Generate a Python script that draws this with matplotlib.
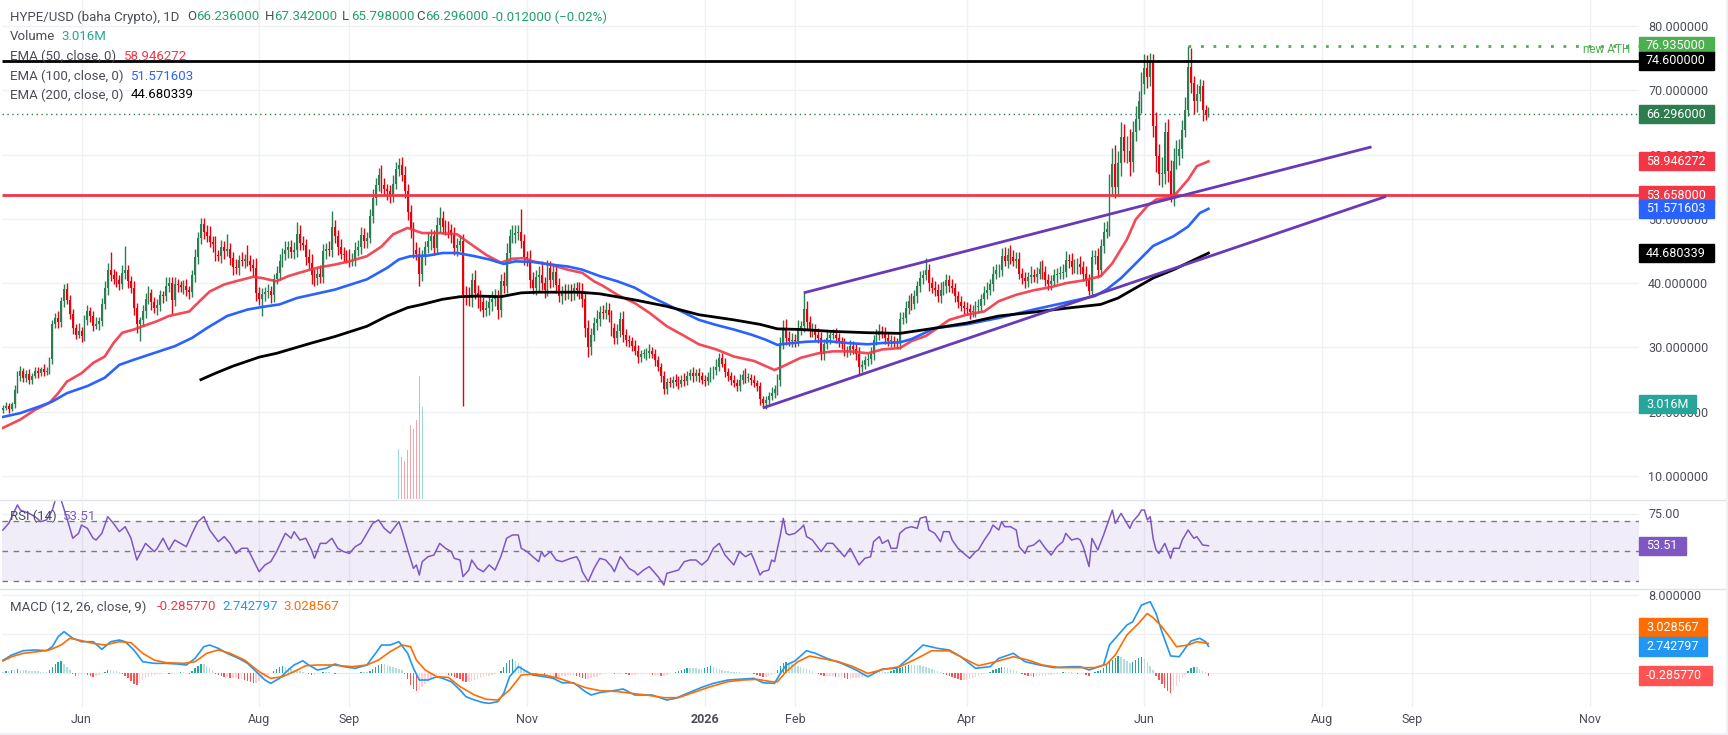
import numpy as np
import pandas as pd
import matplotlib
matplotlib.use("Agg")
import matplotlib.pyplot as plt
from matplotlib.patches import Rectangle

# ---------------- data (daily candles) ----------------
start_date = "2025-05-05"
first_open = 20.3

close = [
    20.6, 20.9, 20.5, 21.2, 23.4, 25.6, 26.3, 25.3, 25.9, 24.9, 25.6, 26.4, 26.0, 26.7, 26.2, 26.4, 28.2, 33.6, 34.6, 33.9,
    37.2, 39.1, 37.4, 35.2, 33.1, 32.0, 32.6, 31.8, 34.2, 35.6, 34.9, 33.4, 33.6, 34.1, 36.8, 39.2, 42.1, 41.2, 40.6, 40.5,
    39.9, 41.6, 42.0, 40.4, 39.3, 36.1, 33.6, 34.2, 35.6, 37.6, 38.4, 37.0, 36.1, 36.6, 38.1, 38.0, 39.6, 40.1, 37.4, 39.9,
    39.7, 39.4, 39.6, 38.9, 38.7, 41.2, 44.1, 47.0, 49.2, 48.0, 47.4, 46.4, 46.1, 44.4, 44.3, 45.6, 45.0, 45.3, 43.9, 42.5,
    42.4, 43.6, 43.5, 43.8, 43.4, 42.9, 42.4, 38.4, 37.6, 38.3, 38.6, 38.8, 38.1, 40.6, 41.6, 43.4, 44.6, 45.1, 45.6, 44.8,
    45.1, 47.6, 46.3, 46.0, 44.1, 43.2, 41.2, 40.8, 41.5, 41.0, 45.0, 45.3, 45.1, 48.8, 47.3, 45.7, 44.6, 44.4, 44.2, 43.7,
    43.8, 45.2, 45.7, 47.5, 46.5, 47.0, 50.4, 53.3, 55.3, 56.9, 55.2, 54.6, 54.3, 53.6, 55.5, 57.7, 58.4, 56.9, 54.4, 51.0,
    48.4, 45.1, 44.6, 41.5, 44.0, 45.7, 46.5, 47.3, 45.5, 49.0, 50.2, 48.7, 48.5, 48.3, 47.5, 45.5, 46.0, 46.5, 38.2, 38.1,
    37.7, 40.5, 38.5, 38.0, 37.0, 35.9, 36.2, 37.0, 37.5, 38.0, 35.9, 40.3, 39.5, 44.7, 47.3, 47.5, 47.8, 47.9, 46.5, 44.0,
    43.8, 40.5, 39.3, 41.0, 41.3, 40.0, 39.0, 42.4, 40.5, 41.8, 39.7, 38.0, 38.6, 38.5, 38.8, 38.5, 39.2, 39.0, 38.8, 37.5,
    33.0, 30.0, 32.0, 33.8, 34.5, 35.5, 35.4, 35.9, 35.0, 33.0, 31.5, 32.5, 34.5, 32.0, 31.2, 31.0, 30.3, 29.5, 28.5, 29.0,
    29.0, 29.2, 29.5, 29.0, 28.0, 27.0, 25.5, 23.5, 24.6, 24.5, 25.0, 24.7, 24.4, 25.0, 24.8, 25.6, 26.0, 25.5, 26.0, 25.6,
    25.0, 24.8, 25.4, 26.0, 26.5, 27.0, 28.4, 27.5, 26.2, 25.5, 25.0, 24.5, 24.0, 25.0, 25.8, 25.3, 25.3, 25.0, 24.5, 24.0,
    22.0, 21.3, 21.8, 22.5, 23.0, 23.5, 25.0, 30.7, 33.0, 31.5, 31.0, 31.2, 31.0, 33.0, 33.3, 36.0, 34.0, 32.5, 32.8, 32.0,
    31.5, 29.0, 30.5, 31.5, 32.0, 32.0, 31.5, 31.0, 30.5, 29.5, 29.6, 30.3, 29.8, 29.0, 27.0, 27.3, 28.0, 28.2, 29.0, 31.2,
    32.0, 32.5, 32.2, 31.5, 31.0, 31.0, 30.8, 30.7, 34.5, 34.6, 36.2, 37.3, 36.8, 38.0, 39.5, 40.8, 41.3, 42.0, 40.0, 39.3,
    39.0, 38.0, 39.0, 39.5, 40.5, 39.5, 39.2, 38.0, 37.0, 36.5, 36.2, 36.0, 35.5, 35.6, 36.3, 36.5, 37.5, 38.5, 39.0, 39.8,
    41.5, 42.0, 42.1, 44.2, 43.5, 44.4, 44.0, 43.5, 43.8, 41.5, 40.8, 40.3, 41.0, 41.3, 41.0, 41.5, 42.2, 41.8, 40.5, 39.9,
    40.4, 41.2, 41.5, 41.6, 41.8, 43.6, 43.5, 42.5, 42.6, 43.0, 42.5, 41.5, 40.5, 38.8, 44.0, 44.2, 42.0, 45.8, 48.0, 48.5,
    55.0, 58.5, 55.0, 58.7, 62.8, 60.5, 60.5, 58.8, 63.5, 65.5, 68.3, 71.0, 73.5, 72.0, 74.6, 64.4, 59.8, 57.0, 57.0, 63.5,
    57.5, 53.5, 59.0, 59.8, 60.8, 63.9, 67.0, 73.7, 71.1, 68.3, 69.5, 70.6, 67.0, 66.236, 66.296,
]

# upper / lower wick length above max(open, close) and below min(open, close)
wick_hi = [
    0.4, 0.6, 0.5, 0.3, 0.8, 0.7, 0.9, 0.5, 0.6, 0.8, 0.4, 0.5, 0.6, 0.3, 0.7, 0.5, 0.4, 0.6, 0.8, 1.0,
    0.6, 0.8, 0.9, 0.7, 0.8, 0.5, 1.2, 0.6, 0.9, 1.0, 0.7, 0.8, 1.1, 0.6, 0.9, 1.2, 1.0, 2.8, 1.0, 1.3,
    0.8, 1.2, 3.8, 0.9, 0.7, 1.1, 0.8, 0.6, 1.0, 0.9, 1.2, 0.7, 0.8, 1.0, 0.9, 0.7, 1.3, 0.8, 0.9, 1.1,
    0.8, 0.6, 0.9, 1.0, 0.7, 0.8, 1.2, 0.9, 1.0, 1.0, 1.0, 1.5, 0.9, 1.3, 0.8, 1.1, 0.9, 2.3, 1.0, 0.9,
    1.2, 0.8, 1.3, 0.7, 2.2, 1.0, 0.8, 1.5, 1.0, 0.9, 0.8, 1.1, 0.7, 0.9, 1.0, 1.2, 0.8, 1.4, 1.0, 1.1,
    1.3, 1.9, 1.5, 1.0, 0.9, 1.2, 1.4, 1.0, 0.8, 1.3, 1.1, 0.9, 1.2, 2.5, 1.0, 0.9, 1.2, 1.0, 0.8, 1.1,
    0.9, 1.2, 1.0, 1.3, 1.1, 1.0, 1.2, 1.4, 1.1, 1.0, 1.5, 1.2, 0.9, 1.0, 1.3, 1.1, 1.1, 1.2, 1.4, 1.0,
    1.2, 1.1, 1.3, 1.0, 1.2, 0.9, 1.4, 1.1, 1.0, 1.3, 1.6, 1.0, 1.2, 1.1, 0.9, 1.3, 1.1, 1.0, 1.2, 1.4,
    1.3, 1.1, 1.5, 1.2, 1.0, 0.9, 1.2, 1.0, 1.3, 1.1, 1.0, 1.2, 1.4, 1.5, 1.2, 1.6, 1.3, 1.1, 3.7, 1.2,
    1.0, 1.3, 1.2, 1.1, 1.4, 2.2, 1.0, 1.2, 1.1, 1.3, 1.0, 1.1, 0.9, 1.2, 1.0, 1.1, 0.9, 1.0, 1.2, 1.3,
    1.1, 1.2, 1.0, 0.9, 1.3, 1.0, 1.1, 1.2, 1.0, 0.9, 0.8, 1.2, 1.0, 1.1, 0.9, 0.8, 0.7, 0.8, 0.9, 0.6,
    0.8, 0.7, 1.0, 0.6, 0.8, 0.7, 0.6, 0.9, 0.7, 0.8, 0.6, 0.9, 0.8, 0.7, 1.0, 0.8, 0.6, 0.9, 0.7, 0.8,
    0.6, 0.7, 0.8, 0.9, 0.7, 1.2, 0.8, 0.7, 0.9, 0.6, 0.7, 0.8, 0.6, 0.9, 0.7, 1.0, 0.8, 0.6, 0.7, 0.5,
    0.6, 0.5, 0.7, 0.6, 0.8, 0.7, 0.9, 1.0, 1.2, 1.5, 1.0, 1.1, 0.9, 1.3, 0.8, 2.5, 1.2, 0.9, 1.0, 0.8,
    1.0, 0.9, 0.8, 1.1, 0.7, 0.9, 1.0, 0.8, 0.7, 0.9, 0.6, 0.8, 0.7, 0.9, 1.0, 0.8, 0.7, 0.9, 1.0, 0.8,
    0.9, 1.2, 0.8, 1.0, 0.7, 0.9, 0.8, 0.6, 1.0, 0.9, 1.1, 0.8, 1.2, 1.0, 0.9, 1.1, 0.8, 1.9, 1.0, 0.9,
    1.1, 0.8, 1.2, 0.9, 1.0, 0.8, 1.1, 0.9, 0.8, 1.0, 0.7, 0.9, 0.8, 1.0, 0.9, 1.1, 0.8, 1.0, 1.2, 0.9,
    1.1, 1.0, 0.9, 1.2, 1.5, 1.0, 1.6, 1.2, 1.0, 1.1, 0.9, 1.0, 0.8, 1.3, 0.9, 1.0, 1.2, 1.4, 0.9, 1.0,
    0.8, 1.0, 0.9, 1.1, 1.2, 1.4, 1.0, 1.2, 1.1, 0.9, 1.3, 1.0, 1.1, 0.9, 1.2, 1.0, 1.3, 1.1, 1.5, 1.2,
    2.0, 2.5, 3.0, 1.8, 2.2, 2.0, 2.4, 3.5, 1.8, 2.0, 1.6, 1.9, 2.2, 2.0, 1.2, 1.0, 2.3, 1.8, 2.6, 1.5,
    2.0, 1.7, 2.1, 2.5, 1.6, 1.5, 1.9, 3.235, 2.9, 1.2, 1.5, 1.1, 1.0, 0.7, 1.046,
]

wick_lo = [
    0.5, 0.3, 0.7, 0.4, 0.6, 0.5, 0.8, 0.6, 0.7, 0.5, 0.6, 0.4, 0.7, 0.5, 0.6, 0.4, 0.5, 0.7, 0.6, 0.8,
    0.7, 0.9, 0.6, 0.8, 1.0, 0.7, 0.6, 0.9, 0.8, 0.7, 1.0, 0.8, 0.6, 0.9, 0.7, 0.8, 1.0, 0.9, 0.8, 1.1,
    0.9, 0.8, 1.0, 1.2, 0.9, 1.1, 1.4, 2.6, 0.8, 1.0, 0.9, 1.2, 0.8, 1.0, 0.9, 1.1, 0.8, 1.0, 2.2, 0.9,
    1.0, 0.8, 1.1, 0.9, 1.2, 0.8, 1.0, 1.1, 0.9, 1.2, 1.0, 0.8, 1.3, 1.0, 0.9, 1.1, 1.2, 0.8, 1.0, 1.3,
    1.0, 1.2, 0.9, 1.1, 0.8, 1.0, 1.3, 1.2, 1.0, 2.7, 1.1, 0.9, 1.2, 1.0, 0.8, 1.1, 0.9, 1.0, 1.2, 0.9,
    1.1, 1.0, 1.2, 0.9, 1.3, 1.0, 1.4, 1.2, 1.1, 0.9, 1.0, 1.2, 0.8, 1.1, 1.0, 1.3, 0.9, 1.1, 1.0, 1.2,
    1.0, 1.1, 0.9, 1.2, 1.0, 1.1, 0.8, 1.0, 1.2, 0.9, 1.1, 1.0, 1.3, 1.2, 1.0, 0.9, 1.1, 1.0, 1.2, 1.1,
    1.3, 1.2, 1.0, 2.0, 1.1, 1.2, 1.0, 1.3, 1.1, 1.0, 1.2, 1.1, 1.0, 1.2, 1.3, 1.1, 1.2, 1.0, 17.3, 1.5,
    1.2, 1.4, 1.0, 1.8, 1.3, 1.2, 1.0, 1.1, 1.3, 1.0, 1.4, 1.2, 1.0, 1.1, 1.3, 1.0, 1.2, 1.1, 1.0, 1.2,
    1.1, 1.3, 1.0, 1.2, 2.4, 1.1, 1.3, 1.0, 1.2, 1.1, 1.3, 1.0, 1.2, 1.1, 1.0, 1.2, 1.1, 1.0, 1.3, 1.2,
    1.4, 1.5, 1.2, 1.0, 1.1, 1.2, 0.9, 1.0, 1.1, 1.2, 0.9, 1.0, 0.8, 1.1, 0.9, 1.0, 0.8, 0.7, 0.9, 0.8,
    0.7, 0.9, 0.8, 0.6, 0.8, 0.7, 0.9, 0.8, 0.7, 0.6, 0.8, 0.7, 0.9, 0.6, 0.8, 0.7, 0.6, 0.8, 0.7, 0.9,
    0.7, 0.8, 0.6, 0.7, 0.9, 0.8, 0.7, 0.6, 0.8, 0.7, 0.9, 0.6, 0.8, 0.7, 0.6, 0.8, 0.7, 0.9, 0.7, 0.8,
    0.9, 0.7, 0.8, 0.6, 0.7, 0.8, 0.9, 1.0, 0.9, 1.1, 0.8, 1.0, 0.9, 0.8, 1.0, 0.9, 1.1, 0.8, 0.9, 1.0,
    0.8, 0.9, 1.0, 0.8, 0.9, 0.7, 0.8, 0.9, 0.7, 0.8, 0.9, 0.7, 0.8, 0.9, 1.2, 0.8, 0.7, 0.9, 0.8, 1.0,
    0.8, 0.9, 0.7, 1.0, 0.8, 0.9, 0.7, 0.8, 1.0, 0.9, 0.8, 1.0, 0.9, 0.8, 1.1, 0.9, 1.0, 0.8, 1.2, 0.9,
    1.0, 0.9, 1.1, 0.8, 1.0, 0.9, 0.8, 1.0, 0.9, 0.8, 1.0, 0.9, 1.1, 0.8, 0.9, 1.0, 0.8, 0.9, 1.0, 0.8,
    1.0, 0.9, 1.1, 1.0, 0.9, 1.1, 1.0, 0.8, 1.2, 0.9, 1.0, 1.1, 0.9, 1.0, 0.8, 1.0, 0.9, 1.1, 1.0, 0.9,
    1.0, 0.9, 1.1, 0.8, 1.0, 0.9, 1.1, 1.0, 0.9, 1.2, 1.0, 1.1, 0.9, 0.6, 0.6, 1.0, 1.2, 0.9, 1.1, 1.0,
    1.2, 1.5, 1.8, 1.4, 2.0, 1.6, 1.8, 2.2, 1.5, 1.4, 1.6, 1.8, 1.5, 1.7, 1.4, 1.6, 2.5, 1.8, 2.0, 1.5,
    1.8, 0.8, 1.5, 1.2, 1.4, 1.3, 1.1, 1.0, 1.5, 2.0, 1.6, 1.2, 1.8, 0.8, 0.438,
]

# volume (only the spike bars are tall enough to show)
vol_idx = [136, 137, 138, 139, 140, 141, 142, 143, 144]
vol_m = [20.0, 16.8, 15.2, 19.6, 29.7, 28.1, 31.7, 49.3, 36.9]

# EMA lines sampled from the chart (candle index, value)
ema50_idx = [0, 6, 11, 16, 19, 22, 27, 31, 35, 38, 41, 45, 48, 53, 57, 64, 68, 71, 76, 80, 86, 89, 94, 98, 102,
             108, 114, 119, 125, 130, 134, 139, 142, 144, 150, 156, 160, 166, 171, 175, 179, 182, 188, 194, 199,
             203, 206, 211, 217, 222, 228, 234, 239, 245, 251, 258, 262, 265, 268, 274, 280, 285, 291, 297, 302,
             308, 312, 317, 325, 331, 337, 342, 348, 354, 360, 365, 372, 377, 381, 386, 389, 393, 396, 400, 403,
             407, 410, 414]
ema50_val = [17.5, 18.8, 20.3, 21.4, 22.9, 24.7, 26.0, 27.6, 28.6, 30.7, 32.3, 32.8, 33.3, 34.1, 34.9, 35.6, 37.4,
             38.7, 39.8, 40.3, 41.0, 40.8, 40.3, 41.1, 41.65, 42.4, 42.9, 43.4, 44.2, 45.7, 47.6, 48.6, 48.1, 47.8,
             47.8, 47.6, 46.3, 44.4, 43.2, 43.8, 43.9, 43.4, 42.9, 42.1, 41.6, 40.3, 39.6, 38.2, 36.9, 35.4, 33.3,
             31.8, 30.5, 29.7, 28.6, 27.9, 27.1, 26.5, 27.1, 28.4, 29.1, 29.4, 29.4, 29.1, 29.7, 29.9, 31.0, 31.8,
             34.3, 35.1, 35.6, 37.2, 38.2, 38.9, 39.4, 40.0, 40.5, 41.1, 43.1, 46.8, 49.9, 52.0, 53.0, 53.3, 54.0,
             56.1, 58.2, 58.946272]

ema100_idx = [0, 6, 13, 17, 22, 29, 35, 40, 45, 51, 59, 65, 70, 77, 84, 89, 95, 101, 106, 114, 125, 132, 136,
              140, 146, 151, 156, 162, 167, 172, 176, 182, 188, 194, 199, 205, 211, 217, 222, 228, 234, 239, 245,
              251, 257, 262, 266, 269, 276, 283, 290, 297, 302, 308, 312, 320, 331, 342, 354, 365, 375, 379, 384,
              388, 395, 402, 407, 411, 414]
ema100_val = [19.2, 19.8, 20.9, 21.6, 22.9, 24.0, 25.3, 27.3, 28.1, 29.0, 30.2, 31.5, 33.0, 34.9, 35.9, 36.3, 36.7,
              37.7, 38.2, 39.0, 40.6, 42.4, 43.7, 44.2, 44.3, 44.7, 44.7, 44.2, 43.7, 43.0, 43.4, 43.3, 42.9, 42.6,
              42.1, 41.1, 40.3, 39.3, 38.0, 36.7, 35.4, 34.3, 33.5, 32.8, 32.0, 31.2, 30.4, 30.6, 30.9, 31.0, 30.7,
              30.5, 30.7, 30.8, 31.3, 33.0, 33.6, 34.6, 35.9, 37.0, 38.0, 39.0, 40.8, 42.6, 45.8, 47.3, 48.8, 50.9,
              51.571603]

ema200_idx = [68, 73, 79, 88, 94, 100, 106, 114, 125, 132, 139, 144, 151, 157, 163, 171, 178, 184, 191, 198, 205,
              217, 228, 239, 251, 260, 266, 274, 285, 297, 308, 320, 331, 342, 354, 365, 377, 383, 388, 395, 402,
              408, 414]
ema200_val = [25.0, 26.0, 27.1, 28.5, 29.1, 29.9, 30.7, 31.7, 33.3, 34.9, 36.2, 36.7, 37.5, 37.9, 38.0, 37.9, 38.5,
              38.6, 38.6, 38.6, 38.35, 37.4, 36.4, 35.1, 34.3, 33.6, 32.9, 32.8, 32.5, 32.3, 32.2, 33.0, 33.8, 34.9,
              35.5, 36.1, 36.7, 37.7, 39.0, 40.8, 42.1, 43.4, 44.680339]

# RSI(14) sampled from the chart
rsi_idx = [0, 2, 5, 6, 9, 11, 13, 15, 17, 18, 20, 22, 24, 26, 27, 29, 31, 32, 34, 36, 38, 40, 42, 44, 46, 49, 52,
           53, 55, 57, 59, 61, 63, 65, 67, 69, 71, 74, 76, 78, 80, 82, 84, 86, 88, 90, 92, 94, 97, 99, 100, 102,
           104, 106, 107, 109, 111, 113, 115, 117, 119, 121, 123, 125, 127, 129, 131, 133, 136, 137, 139, 141, 142,
           143, 144, 146, 148, 150, 152, 154, 155, 157, 158, 160, 161, 163, 165, 167, 169, 171, 173, 175, 177, 178,
           180, 182, 184, 185, 186, 188, 190, 192, 195, 197, 198, 199, 201, 203, 205, 207, 209, 210, 212, 213, 215,
           217, 218, 220, 222, 224, 225, 227, 228, 230, 232, 234, 236, 238, 240, 242, 244, 246, 248, 250, 251, 253,
           255, 257, 258, 260, 261, 263, 264, 265, 267, 268, 269, 270, 272, 274, 275, 276, 278, 281, 283, 285, 287,
           289, 291, 294, 296, 298, 299, 301, 302, 304, 305, 307, 308, 310, 312, 314, 315, 317, 318, 320, 322, 323,
           325, 326, 328, 330, 332, 334, 335, 337, 339, 340, 342, 343, 344, 346, 348, 349, 351, 352, 354, 356, 358,
           360, 362, 364, 365, 367, 369, 370, 371, 373, 374, 376, 378, 379, 381, 382, 384, 385, 387, 388, 390, 391,
           392, 393, 394, 395, 396, 397, 399, 401, 402, 404, 405, 407, 409, 410, 412, 414]
rsi_val = [64, 68.4, 80.7, 77.3, 75.1, 72.9, 69.6, 70.7, 77.3, 84, 84, 71.8, 58.5, 61.8, 67.3, 65.1, 58.5, 57.3,
           61.8, 72.9, 68.4, 62.9, 66.2, 58.5, 44, 55.1, 49.6, 51.8, 58.5, 50.7, 57.3, 55.1, 52.9, 61.8, 69.6, 72.9,
           64, 56.2, 59.6, 55.1, 48.4, 51.8, 51.8, 44, 36.2, 40.7, 42.9, 49.6, 61.8, 58.5, 62.9, 57.3, 58.5, 50.7,
           45.1, 55.1, 55.1, 58.5, 51.8, 49.6, 48.4, 52.9, 55.1, 61.8, 68.4, 70.7, 65.1, 61.8, 69.6, 64, 50.7, 38.4,
           40.7, 34, 42.9, 46.2, 47.3, 55.1, 51.8, 49.6, 45.1, 44, 32.9, 37.3, 44, 38.4, 36.2, 40.7, 37.3, 46.2,
           58.5, 60.7, 60.7, 51.8, 49.6, 46.2, 42.9, 49.6, 46.2, 49.6, 44, 42.9, 45.1, 46.2, 42.9, 36.2, 29.6, 38.4,
           45.1, 44, 39.6, 36.2, 46.2, 44, 38.4, 36.2, 34, 37.3, 39.6, 35.1, 32.9, 27.3, 35.1, 36.2, 37.3, 42.9, 44,
           44, 40.7, 44, 51.8, 55.1, 47.3, 42.9, 40.7, 49.6, 46.2, 48.4, 44, 34, 36.2, 37.3, 44, 42.9, 60.7, 71.8,
           61.8, 60.7, 61.8, 65.1, 67.3, 59.6, 57.3, 49.6, 55.1, 55.1, 50.7, 46.2, 51.8, 40.7, 45.1, 46.2, 56.2,
           59.6, 55.1, 57.3, 51.8, 51.8, 61.8, 65.1, 66.2, 65.1, 71.8, 72.9, 64, 61.8, 56.2, 62.9, 62.9, 57.3, 51.8,
           48.4, 45.1, 49.6, 50.7, 57.3, 62.9, 67.3, 64, 69.6, 66.2, 66.2, 64, 52.9, 48.4, 52.9, 54, 57.3, 51.8,
           47.3, 52.9, 56.2, 61.8, 57.3, 58.4, 57.3, 52.9, 39.6, 58.4, 50.7, 60.7, 66.2, 77.3, 68.4, 75.1, 71.8,
           65.1, 69.6, 74, 77.3, 77.3, 70.7, 72.9, 58.4, 50.7, 48.4, 55.1, 45.1, 51.8, 51.8, 57.3, 64, 58.4, 59.6,
           54, 53.51]

# MACD(12, 26, 9) lines sampled from the chart
macd_idx = [0, 3, 7, 11, 15, 17, 19, 21, 24, 27, 31, 34, 37, 40, 42, 45, 48, 52, 56, 60, 63, 66, 69, 71, 74, 77,
            81, 84, 87, 90, 92, 95, 98, 100, 103, 105, 108, 111, 114, 117, 121, 125, 128, 130, 133, 136, 139, 141,
            143, 146, 149, 151, 154, 157, 159, 162, 165, 167, 170, 172, 174, 177, 180, 182, 186, 189, 192, 196,
            200, 202, 205, 209, 213, 217, 223, 228, 231, 235, 240, 244, 249, 254, 258, 261, 265, 267, 269, 272,
            276, 279, 283, 288, 293, 297, 302, 307, 311, 316, 321, 325, 329, 334, 339, 342, 347, 351, 356, 361,
            367, 370, 373, 378, 380, 383, 386, 388, 391, 394, 396, 398, 401, 404, 406, 408, 411, 413, 414]
macd_val = [1.3, 1.84, 2.29, 2.36, 2.29, 2.7, 3.73, 4.24, 3.56, 3.21, 3.21, 2.43, 3.21, 3.38, 3.21, 2.36, 1.16, 0.99,
            0.99, 0.92, 0.82, 1.5, 2.7, 2.87, 2.53, 2.02, 1.5, 0.99, 0.14, -0.72, -1.06, -0.55, 0.31, 0.82, 1.26,
            0.82, 0.31, 0.48, 0.92, 0.65, 0.48, 0.82, 2.02, 2.87, 2.87, 3.21, 2.02, 0.48, -0.72, -0.72, -0.38,
            -0.55, -0.89, -1.74, -2.43, -2.77, -3.04, -3.11, -2.94, -2.09, -0.38, 0.65, 0.14, -0.21, -0.38, -0.55,
            -1.0, -1.0, -1.91, -2.26, -2.0, -1.85, -1.64, -2.26, -2.26, -2.77, -2.6, -2.09, -1.47, -1.06, -0.72,
            -0.62, -0.55, -1.0, -1.06, -0.04, 0.82, 1.23, 2.29, 2.02, 1.5, 0.99, 0.31, -0.38, 0.41, 0.48, 1.5,
            2.87, 2.53, 2.36, 1.67, 0.48, 0.65, 1.5, 2.02, 1.16, 0.82, 0.55, 0.65, 0.65, 0.31, 0.82, 2.87, 3.9,
            4.92, 5.26, 6.97, 7.31, 6.11, 4.24, 1.75, 1.67, 2.53, 3.28, 3.56, 3.21, 2.742797]

signal_idx = [0, 3, 7, 12, 16, 20, 23, 27, 31, 35, 40, 44, 48, 52, 56, 62, 66, 70, 74, 78, 83, 88, 92, 96, 100,
              104, 108, 113, 120, 125, 129, 133, 137, 140, 142, 145, 149, 153, 157, 162, 166, 170, 174, 178, 182,
              186, 191, 196, 200, 205, 211, 216, 221, 227, 232, 238, 243, 249, 254, 259, 264, 266, 269, 273, 277,
              281, 287, 292, 297, 303, 308, 314, 319, 325, 330, 335, 341, 347, 352, 357, 363, 368, 375, 379, 382,
              386, 390, 393, 395, 398, 401, 403, 407, 410, 414]
signal_val = [1.23, 1.67, 2.02, 2.19, 2.36, 2.87, 3.56, 3.32, 3.04, 2.87, 3.21, 3.11, 2.02, 1.33, 1.06, 0.99, 1.16,
              2.02, 2.36, 2.02, 1.33, 0.14, -0.55, -0.38, 0.14, 0.75, 0.82, 0.82, 0.65, 0.82, 1.33, 2.19, 2.87, 2.7,
              1.33, 0.31, -0.38, -0.45, -1.4, -2.26, -2.7, -2.77, -1.74, -0.21, -0.11, -0.21, -0.55, -1.06, -1.5,
              -1.81, -1.9, -2.09, -2.26, -2.53, -2.53, -1.91, -1.4, -0.89, -0.72, -0.65, -0.89, -0.89, 0.14, 1.16,
              1.74, 1.5, 1.16, 0.65, -0.04, 0.41, 0.65, 1.5, 2.29, 2.26, 1.5, 0.75, 1.16, 1.67, 1.33, 0.82, 0.55,
              0.55, 0.55, 0.89, 1.84, 3.9, 5.09, 6.11, 5.67, 4.75, 3.56, 2.7, 2.87, 3.21, 3.028567]

# MACD histogram, one bar per candle
macd_hist = [
    0.1, 0.2, 0.2, 0.3, 0.3, 0.4, 0.3, 0.3, 0.3, 0.2, 0.2, 0.2, 0.2, 0.1, 0.1, 0.1,
    0.3, 0.6, 0.9, 1.1, 1.2, 0.9, 0.6, 0.3,
    -0.1, -0.3, -0.3, -0.2, -0.1, -0.2, -0.3, -0.4, -0.3, -0.2,
    0.0, 0.1, 0.3, 0.3, 0.2, 0.2, 0.1,
    -0.1, -0.3, -0.5, -0.8, -1.1, -1.2, -1.0, -0.7, -0.5, -0.4,
    -0.3, -0.2, -0.1, -0.1, 0.0, 0.0, -0.1, -0.1, 0.0, 0.0, 0.1, 0.1, 0.0, -0.1,
    0.2, 0.5, 0.7, 0.9, 0.9, 0.7, 0.5, 0.3,
    -0.1, -0.2, -0.3, -0.4, -0.4, -0.5, -0.5, -0.5, -0.6, -0.6, -0.7, -0.8, -0.9, -1.0, -1.0, -0.8, -0.6, -0.4,
    -0.2, 0.0, 0.2, 0.4, 0.6, 0.7, 0.6, 0.5, 0.4, 0.3, 0.3, 0.2, 0.1,
    0.0, -0.1, -0.2, -0.2, -0.1, 0.0, 0.1, 0.1, 0.1, 0.0, -0.1, -0.1, -0.1, -0.1, -0.1, 0.0, 0.0, 0.0, 0.0, 0.1,
    0.1, 0.1, 0.2,
    0.4, 0.6, 0.8, 0.9, 0.9, 0.8, 0.7, 0.6, 0.5, 0.4, 0.3,
    -0.1, -0.6, -1.2, -1.6, -1.8, -1.7, -1.4, -1.1, -0.8, -0.5, -0.3, -0.2,
    -0.1, -0.1, -0.1, -0.2, -0.3, -0.4, -0.5, -0.6, -0.8, -0.9, -0.9, -0.8, -0.7, -0.6, -0.5, -0.4, -0.3, -0.3,
    -0.2, -0.1, 0.0, 0.2,
    0.6, 1.0, 1.3, 1.4, 1.2, 1.0, 0.7, 0.4,
    0.1, 0.0, -0.1, -0.2, -0.2, -0.2, -0.3, -0.3, -0.3, -0.3, -0.4, -0.4, -0.3, -0.3, -0.2, -0.2, -0.2, -0.3,
    -0.4, -0.5, -0.6, -0.6, -0.5, -0.4, -0.4,
    -0.2, -0.1, -0.1, 0.0, 0.0, -0.1,
    -0.1, -0.1, 0.0, -0.1, -0.2, -0.2, -0.2, -0.1, -0.1, -0.1, -0.1, -0.1, -0.2, -0.2, -0.2, -0.3, -0.3, -0.2,
    -0.1, 0.0,
    0.1, 0.2, 0.3, 0.4, 0.5, 0.5, 0.5, 0.5, 0.4, 0.4, 0.5, 0.6, 0.7, 0.6, 0.5, 0.4, 0.3, 0.2, 0.2, 0.1, 0.1,
    0.1, 0.1, 0.0, 0.0, 0.0, 0.0, -0.1,
    -0.2, -0.3, -0.4, -0.4, -0.3, -0.2, -0.1,
    0.3, 0.7, 1.0, 1.1, 1.0, 0.9, 0.8, 0.7, 0.6, 0.5, 0.4, 0.3, 0.2,
    0.0, -0.1, -0.2, -0.3, -0.3, -0.3, -0.3, -0.4, -0.4, -0.4, -0.5, -0.6, -0.6, -0.5, -0.5, -0.5, -0.4, -0.3,
    -0.2,
    0.0, 0.1, 0.2, 0.2, 0.1, 0.1, 0.1, 0.2, 0.3, 0.4, 0.5, 0.6, 0.7, 0.8, 0.8, 0.8, 0.8, 0.8, 0.7, 0.6, 0.5,
    0.4, 0.3, 0.2, 0.1,
    -0.1, -0.2, -0.3, -0.4, -0.5, -0.6, -0.7, -0.7, -0.7, -0.6, -0.5, -0.4, -0.3, -0.2, -0.1, 0.0,
    0.1, 0.3, 0.4, 0.5, 0.6, 0.6, 0.5, 0.4, 0.3, 0.2,
    0.0, -0.1, -0.2, -0.3, -0.3, -0.4, -0.3, -0.3, -0.3, -0.3, -0.2, -0.2, -0.1, -0.1, 0.0, 0.1, 0.1, 0.1,
    0.1, 0.0, -0.1, -0.1, -0.1, -0.2, -0.3,
    0.0, 0.1, 0.2, 0.3, 0.5, 0.8, 1.1, 1.3, 1.5, 1.7, 1.6, 1.4, 1.2, 1.0, 1.1, 1.3, 1.5, 1.6, 1.4, 1.1, 0.7,
    0.3,
    -0.3, -0.7, -1.1, -1.5, -1.8, -2.0, -1.7, -1.3, -0.9, -0.5, -0.2, 0.2, 0.5, 0.6, 0.6, 0.4, 0.2, 0.1,
    -0.28577,
]

# drawings: horizontal levels and channel lines (candle index, price)
level_black = 74.6
level_red = 53.658
ath_idx, ath_price = 407, 76.935
channel_upper = ([275, 470], [38.5, 61.2])
channel_lower = ([261, 475], [20.6, 53.5])

month_ticks = ["2025-06-01", "2025-08-01", "2025-09-01", "2025-11-01", "2026-01-01", "2026-02-01",
               "2026-04-01", "2026-06-01", "2026-08-01", "2026-09-01", "2026-11-01"]
month_labels = ["Jun", "Aug", "Sep", "Nov", "2026", "Feb", "Apr", "Jun", "Aug", "Sep", "Nov"]

assert len(close) == len(wick_hi) == len(wick_lo) == len(macd_hist)

# ---------------- styling ----------------
UP, DOWN = "#2b7d52", "#e8000d"
C_EMA50, C_EMA100, C_EMA200 = "#f23645", "#2962ff", "#000000"
C_RSI = "#7e57c2"
C_MACD, C_SIG = "#2196f3", "#ff6d00"
TXT = "#4a4d57"
GRID = "#eef0f4"
FONT = ["Roboto", "DejaVu Sans"]
plt.rcParams["font.family"] = FONT

W, H = 1728, 735
PX_PER_DAY, JUN1_PX = 2.912, 81.5   # x layout of the screenshot


def x_at(px):
    return (px - JUN1_PX) / PX_PER_DAY + 27


def fx(px):
    return px / W


def fy(py):
    return 1 - py / H


close = np.array(close)
opens = np.r_[first_open, close[:-1]]
highs = np.maximum(opens, close) + np.array(wick_hi)
lows = np.minimum(opens, close) - np.array(wick_lo)
idx = np.arange(len(close))
up = close >= opens
colors = np.where(up, UP, DOWN)
start = pd.Timestamp(start_date)
tick_pos = [(pd.Timestamp(m) - start).days for m in month_ticks]

fig = plt.figure(figsize=(W / 100, H / 100), dpi=100)
fig.patch.set_facecolor("#eef0f5")
fig.add_artist(Rectangle((0, fy(732)), fx(1725), 732 / H, transform=fig.transFigure,
                         color="white", zorder=-10))

left, right = 2, 1639
ax = fig.add_axes([fx(left), fy(499), fx(right - left), 499 / H])
axv = fig.add_axes([fx(left), fy(499), fx(right - left), 499 / H], sharex=ax, facecolor="none")
ax_rsi = fig.add_axes([fx(left), fy(587), fx(right - left), 86 / H], sharex=ax)
ax_macd = fig.add_axes([fx(left), fy(707), fx(right - left), 116 / H], sharex=ax)

for a in (ax, ax_rsi, ax_macd):
    a.set_facecolor("white")
    for s in a.spines.values():
        s.set_visible(False)
    a.set_xticks(tick_pos)
    a.grid(True, color=GRID, lw=1, zorder=0)
    a.set_axisbelow(True)
    a.yaxis.tick_right()
    a.tick_params(axis="both", length=0, labelsize=9, labelcolor=TXT)
    a.tick_params(axis="y", pad=6.5)
ax.set_xlim(x_at(left), x_at(right))
ax.tick_params(axis="x", labelbottom=False)
ax_rsi.tick_params(axis="x", labelbottom=False)
ax_macd.set_xticklabels(month_labels)
ax_macd.tick_params(axis="x", pad=4)
for lab in ax_macd.get_xticklabels():
    if lab.get_text() == "2026":
        lab.set_fontweight("bold")

# ---- main price panel ----
ax.set_ylim(80 - (499 - 26) / 6.43, 80 + 26 / 6.43)
ax.set_yticks(range(10, 90, 10))
ax.yaxis.set_major_formatter(matplotlib.ticker.FormatStrFormatter("%.6f"))

ax.vlines(idx, lows, highs, colors=colors, lw=1.0, zorder=2)
body = np.maximum(np.abs(close - opens), 0.12)
ax.bar(idx, body, bottom=np.minimum(opens, close), width=0.62, color=colors, lw=0, zorder=2)

ax.plot(ema50_idx, ema50_val, color=C_EMA50, lw=1.9, zorder=3, alpha=0.9)
ax.plot(ema100_idx, ema100_val, color=C_EMA100, lw=1.9, zorder=3)
ax.plot(ema200_idx, ema200_val, color=C_EMA200, lw=2.0, zorder=3)

xr = x_at(right)
ax.hlines(level_black, x_at(left), xr, color="black", lw=2.0, zorder=4)
ax.hlines(level_red, x_at(left), xr, color="#f23645", lw=2.0, zorder=4)
ax.hlines(close[-1], x_at(left), xr, color="#2e7d4f", lw=1.0, linestyles=(0, (1, 2.5)), zorder=4)
ax.hlines(ath_price, ath_idx, xr, color="#4caf50", lw=2.0, linestyles=(0, (1, 3.5)), zorder=4)
ax.plot(*channel_upper, color="#673ab7", lw=2.0, zorder=4, solid_capstyle="butt")
ax.plot(*channel_lower, color="#673ab7", lw=2.0, zorder=4, solid_capstyle="butt")
ax.text(x_at(1630), level_black + 0.7, "new ATH", color="#4caf50", fontsize=8.5,
        ha="right", va="bottom", zorder=5)

# volume overlay
axv.axis("off")
axv.set_ylim(0, 200)
vcol = ["#22ab94" if up[i] else "#f23645" for i in vol_idx]
axv.bar(vol_idx, vol_m, width=0.4, color=vcol, alpha=0.45, lw=0)

# ---- RSI ----
ax_rsi.set_ylim(70 - (587 - 521) / 1.5, 70 - (501 - 521) / 1.5)
ax_rsi.set_yticks([75])
ax_rsi.set_yticklabels(["75.00"])
ax_rsi.axhspan(30, 70, color=C_RSI, alpha=0.1, lw=0, zorder=1)
for lvl in (70, 50, 30):
    ax_rsi.axhline(lvl, color="#787b86", lw=1, ls=(0, (4, 4)), zorder=1)
ax_rsi.plot(rsi_idx, rsi_val, color=C_RSI, lw=1.1, zorder=3)

# ---- MACD ----
ax_macd.set_ylim((673 - 707) / 9.75, (673 - 591) / 9.75)
ax_macd.set_yticks([0, 4, 8])
ax_macd.set_yticklabels(["", "", "8.000000"])   # lower labels sit under the value tags
hist = np.array(macd_hist)
prev = np.r_[hist[0], hist[:-1]]
hcol = np.where(hist >= 0, np.where(hist > prev, "#26a69a", "#b2dfdb"),
                np.where(hist < prev, "#ff5252", "#ffcdd2"))
ax_macd.bar(idx, hist, width=0.5, color=hcol, lw=0, zorder=2)
ax_macd.plot(macd_idx, macd_val, color=C_MACD, lw=1.2, zorder=3)
ax_macd.plot(signal_idx, signal_val, color=C_SIG, lw=1.2, zorder=3)

# ---- panel separators ----
for py in (500, 589):
    fig.add_artist(plt.Line2D([0, fx(1725)], [fy(py), fy(py)], transform=fig.transFigure,
                              color="#e0e3eb", lw=1, zorder=6))


# ---- price tags on the right axis ----
def tag(axis, value, text, color, dy=0, right_px=1714, h=18, py=None):
    if py is None:
        yc = axis.transData.transform((0, value))[1] + dy
    else:
        yc = H - py
    fig.add_artist(Rectangle((fx(1639), (yc - h / 2) / H), fx(right_px - 1639), h / H,
                             transform=fig.transFigure, color=color, zorder=10))
    fig.text(fx(1646), yc / H, text, color="white", fontsize=9, va="center", ha="left", zorder=11)


tag(ax, ath_price, "76.935000", "#4caf50")
tag(ax, level_black, "74.600000", "#000000")
tag(ax, close[-1], "66.296000", "#2e7d4f")
tag(ax, ema50_val[-1], "58.946272", C_EMA50)
tag(ax, level_red, "53.658000", "#f23645")
tag(ax, ema100_val[-1], "51.571603", C_EMA100)
tag(ax, ema200_val[-1], "44.680339", "#000000")
tag(ax, 0, "3.016M", "#26a69a", right_px=1696, py=404)
tag(ax_rsi, rsi_val[-1], "53.51", C_RSI, right_px=1686)
tag(ax_macd, signal_val[-1], "3.028567", C_SIG, dy=16, right_px=1707, h=19)
tag(ax_macd, macd_val[-1], "2.742797", C_MACD, right_px=1707, h=19)
tag(ax_macd, macd_hist[-1], "-0.285770", "#ff5252", right_px=1712, h=19)


# ---- legends ----
def put(x, y, s, c, size=9.5, weight="normal"):
    fig.text(fx(x), fy(y), s, color=c, fontsize=size, va="center", ha="left", fontweight=weight)


green = "#22a06b"
put(10, 17, "HYPE/USD (baha Crypto), 1D", TXT)
for x, lab, val in [(187, "O", "66.236000"), (265, "H", "67.342000"),
                    (342, "L", "65.798000"), (416, "C", "66.296000")]:
    put(x, 17, lab, TXT)
    put(x + 9, 17, val, green)
put(492, 17, "-0.012000 (\u22120.02%)", green)
put(10, 37, "Volume", TXT)
put(61, 37, "3.016M", "#26a69a")
put(10, 56, "EMA (50, close, 0)", TXT)
put(124, 56, "58.946272", C_EMA50)
put(10, 76, "EMA (100, close, 0)", TXT)
put(131, 76, "51.571603", C_EMA100)
put(10, 95, "EMA (200, close, 0)", TXT)
put(131, 95, "44.680339", "#000000")
put(10, 516, "RSI (14)", TXT)
put(63, 516, "53.51", C_RSI)
put(10, 607, "MACD (12, 26, close, 9)", TXT)
put(157, 607, "-0.285770", "#f23645")
put(222, 607, "2.742797", C_MACD)
put(283, 607, "3.028567", C_SIG)

fig.savefig("out.png", dpi=100)
